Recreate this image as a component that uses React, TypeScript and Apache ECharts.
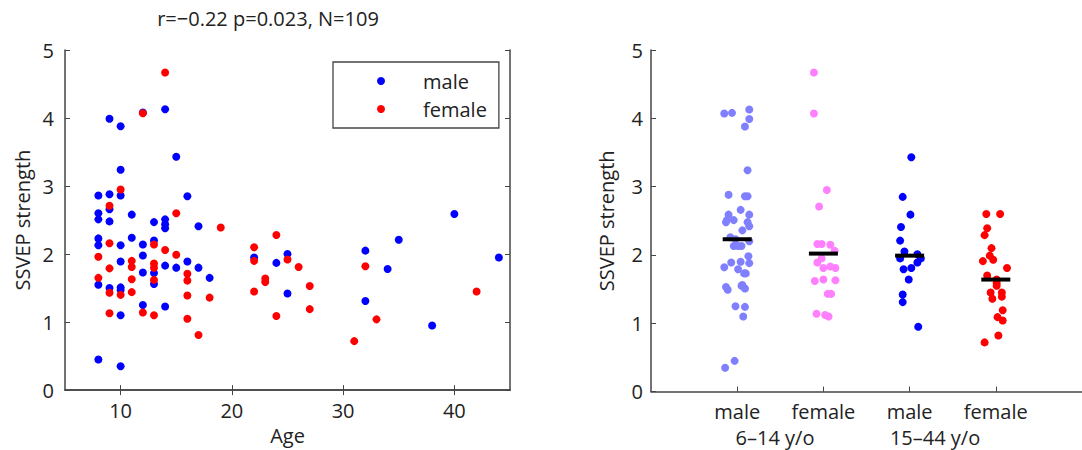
import React, { useEffect, useRef } from "react";
import * as echarts from "echarts";

// ---------- Left panel: SSVEP strength vs age ----------
const MALE_AGE = [14, 9, 10, 15, 10, 8, 9, 10, 16, 9, 8, 11, 8, 9, 13, 14, 14, 14, 17, 8, 8, 10, 11, 12, 13, 12, 10, 12, 13, 14, 15, 16, 17, 18, 8, 9, 10, 10, 13, 12, 14, 10, 8, 10, 22, 24, 25, 25, 32, 32, 34, 35, 38, 40, 44, 12];
const MALE_SSVEP = [4.13, 3.99, 3.88, 3.43, 3.24, 2.86, 2.88, 2.86, 2.85, 2.66, 2.6, 2.58, 2.51, 2.48, 2.47, 2.51, 2.44, 2.38, 2.41, 2.23, 2.13, 2.13, 2.24, 2.14, 2.2, 1.98, 1.89, 1.73, 1.72, 1.83, 1.8, 1.89, 1.8, 1.65, 1.55, 1.5, 1.51, 1.47, 1.56, 1.25, 1.23, 1.1, 0.45, 0.35, 1.95, 1.87, 2.0, 1.42, 2.05, 1.31, 1.78, 2.21, 0.95, 2.59, 1.95, 4.08];
const FEMALE_AGE = [14, 12, 10, 9, 15, 19, 9, 13, 14, 15, 8, 11, 11, 9, 13, 13, 16, 16, 8, 9, 10, 11, 11, 13, 16, 18, 9, 12, 13, 16, 17, 22, 22, 24, 25, 26, 23, 23, 22, 27, 27, 24, 32, 33, 31, 42];
const FEMALE_SSVEP = [4.67, 4.07, 2.95, 2.71, 2.6, 2.39, 2.16, 2.14, 2.06, 1.99, 1.96, 1.9, 1.81, 1.79, 1.86, 1.8, 1.71, 1.61, 1.65, 1.43, 1.4, 1.63, 1.44, 1.62, 1.39, 1.36, 1.13, 1.14, 1.1, 1.05, 0.81, 2.1, 1.9, 2.28, 1.92, 1.81, 1.64, 1.59, 1.45, 1.53, 1.19, 1.09, 1.82, 1.04, 0.72, 1.45];
const AGE_TICKS = [10, 20, 30, 40];
const Y_TICKS = [0, 1, 2, 3, 4, 5];
const TITLE = "r=\u22120.22 p=0.023, N=109";

// ---------- Right panel: groups ----------
const GROUP_LABELS = ["male", "female", "male", "female"];
const AGE_GROUP_LABELS = ["6\u201314 y/o", "15\u201344 y/o"];
const YOUNG_MALE = [4.07, 4.08, 4.13, 3.99, 3.88, 3.24, 2.88, 2.86, 2.86, 2.66, 2.59, 2.59, 2.51, 2.48, 2.51, 2.48, 2.42, 2.36, 2.26, 2.23, 2.13, 2.13, 2.13, 2.2, 1.98, 1.89, 1.9, 1.88, 1.82, 1.79, 1.73, 1.73, 1.53, 1.49, 1.56, 1.51, 1.55, 1.25, 1.24, 1.1, 0.45, 0.35];
const YOUNG_MALE_JITTER = [-0.15, -0.06, 0.14, 0.14, 0.09, 0.12, -0.1, 0.09, 0.12, 0.04, -0.1, 0.14, -0.12, -0.13, -0.04, 0.12, 0.14, 0.06, -0.08, -0.02, -0.04, 0.01, 0.05, 0.14, 0.13, -0.07, 0.04, 0.14, -0.15, 0.01, 0.08, 0.1, -0.13, -0.11, 0.06, 0.09, 0.05, -0.02, 0.09, 0.07, -0.03, -0.14];
const YOUNG_FEMALE = [4.67, 4.07, 2.95, 2.71, 2.16, 2.16, 2.15, 2.06, 1.95, 1.89, 1.81, 1.83, 1.81, 1.62, 1.64, 1.63, 1.43, 1.43, 1.14, 1.12, 1.1];
const YOUNG_FEMALE_JITTER = [-0.11, -0.11, 0.04, -0.05, -0.07, -0.02, 0.08, 0.13, -0.02, -0.07, 0.0, 0.08, 0.14, -0.1, 0.0, 0.14, 0.05, 0.09, -0.08, 0.02, 0.06];
const OLD_MALE = [3.43, 2.85, 2.59, 2.41, 2.21, 2.05, 2.01, 1.95, 1.89, 1.95, 1.79, 1.81, 1.64, 1.42, 1.31, 0.95];
const OLD_MALE_JITTER = [0.02, -0.08, 0.01, -0.1, -0.11, -0.06, 0.09, 0.13, 0.09, -0.11, -0.07, 0.02, -0.01, -0.08, -0.08, 0.1];
const OLD_FEMALE = [2.6, 2.6, 2.39, 2.29, 2.1, 1.99, 1.93, 1.91, 1.81, 1.7, 1.64, 1.59, 1.55, 1.45, 1.36, 1.45, 1.39, 1.19, 1.09, 1.04, 0.82, 0.72];
const OLD_FEMALE_JITTER = [-0.11, 0.05, -0.1, -0.13, -0.05, -0.07, -0.03, -0.15, 0.13, -0.1, 0.01, 0.01, 0.01, -0.06, -0.04, 0.07, 0.07, 0.08, 0.02, 0.08, 0.03, -0.13];
const GROUP_MEDIANS = [2.23, 2.02, 1.99, 1.64];

const FONT = "Open Sans";
const FONT_SIZE = 20;
const AXIS_COLOR = "#454545";
const TEXT_COLOR = "#222222";

const pairs = (xs: number[], ys: number[]) => xs.map((x, i) => [x, ys[i]]);
const groupPoints = (g: number, vals: number[], jit: number[]) => vals.map((v, i) => [g + jit[i], v]);

export default function App() {
  const ref = useRef<HTMLDivElement>(null);
  useEffect(() => {
    if (!ref.current) return;
    const chart = echarts.init(ref.current, null, { renderer: "svg" });

    const L = { left: 65, top: 50, width: 445, height: 341.6 };
    const R = { left: 651, top: 50, width: 444.5, height: 341.6 };
    const R_MIN = 0, R_MAX = 5;
    const rx = (v: number) => R.left + ((v - R_MIN) / (R_MAX - R_MIN)) * R.width;

    const axisLine = { show: true, lineStyle: { color: AXIS_COLOR, width: 1.5 } };
    const tickIn = (vals: number[]) => ({ show: true, inside: true, length: 5, customValues: vals, lineStyle: { color: AXIS_COLOR, width: 1 } });
    const labelStyle = { color: TEXT_COLOR, fontFamily: FONT, fontSize: FONT_SIZE };
    const dot = (color: string) => ({ color, opacity: 1 });
    const groupText = (text: string, x: number) => ({
      type: "text", x, y: 437,
      style: {
        text, fill: TEXT_COLOR, fontFamily: FONT, fontSize: FONT_SIZE, lineHeight: 20,
        textAlign: "center", textVerticalAlign: "middle", verticalAlign: "middle",
      },
    });

    const option: any = {
      animation: false,
      backgroundColor: "#ffffff",
      textStyle: { fontFamily: FONT },
      grid: [
        { left: L.left, top: L.top, width: L.width, height: L.height, containLabel: false },
        { left: R.left, top: R.top, width: R.width, height: R.height, containLabel: false },
      ],
      legend: {
        data: ["male", "female"],
        left: 333,
        top: 62,
        orient: "vertical",
        icon: "circle",
        itemWidth: 8,
        itemHeight: 8,
        itemGap: 6,
        padding: [8, 12, 8, 44],
        borderColor: AXIS_COLOR,
        borderWidth: 1.3,
        borderRadius: 0,
        backgroundColor: "#ffffff",
        textStyle: { color: TEXT_COLOR, fontFamily: FONT, fontSize: FONT_SIZE, lineHeight: 22, padding: [0, 0, 0, 33] },
      },
      xAxis: [
        {
          type: "value", gridIndex: 0, min: 5, max: 45, position: "bottom",
          name: "Age", nameLocation: "middle", nameGap: 34,
          nameTextStyle: { ...labelStyle },
          axisLine, axisTick: tickIn(AGE_TICKS),
          axisLabel: { ...labelStyle, margin: 10, customValues: AGE_TICKS },
          splitLine: { show: false },
        },
        {
          type: "value", gridIndex: 0, min: 5, max: 45, position: "top",
          axisLine, axisTick: tickIn(AGE_TICKS), axisLabel: { show: false }, splitLine: { show: false },
        },
        {
          type: "value", gridIndex: 1, min: R_MIN, max: R_MAX, position: "bottom",
          axisLine, axisTick: tickIn([1, 2, 3, 4]),
          axisLabel: {
            ...labelStyle, margin: 9, lineHeight: 22, customValues: [1, 2, 3, 4],
            formatter: (v: number) => GROUP_LABELS[Math.round(v) - 1] ?? "",
          },
          splitLine: { show: false },
        },
      ],
      yAxis: [
        {
          type: "value", gridIndex: 0, min: 0, max: 5, position: "left",
          name: "SSVEP strength", nameLocation: "middle", nameGap: 33, nameRotate: 90,
          nameTextStyle: { ...labelStyle },
          axisLine, axisTick: tickIn(Y_TICKS),
          axisLabel: { ...labelStyle, margin: 11, customValues: Y_TICKS },
          splitLine: { show: false },
        },
        {
          type: "value", gridIndex: 0, min: 0, max: 5, position: "right",
          axisLine, axisTick: tickIn(Y_TICKS), axisLabel: { show: false }, splitLine: { show: false },
        },
        {
          type: "value", gridIndex: 1, min: 0, max: 5, position: "left",
          name: "SSVEP strength", nameLocation: "middle", nameGap: 35, nameRotate: 90,
          nameTextStyle: { ...labelStyle },
          axisLine, axisTick: tickIn(Y_TICKS),
          axisLabel: { ...labelStyle, margin: 8, customValues: Y_TICKS },
          splitLine: { show: false },
        },
      ],
      graphic: [
        {
          type: "text", x: 268, y: 8,
          style: { text: TITLE, fill: TEXT_COLOR, fontFamily: FONT, fontSize: FONT_SIZE, textAlign: "center" },
        },
        groupText(AGE_GROUP_LABELS[0], rx(1.395)),
        groupText(AGE_GROUP_LABELS[1], rx(3.195)),
      ],
      series: [
        {
          name: "male", type: "scatter", xAxisIndex: 0, yAxisIndex: 0,
          data: pairs(MALE_AGE, MALE_SSVEP), symbol: "circle", symbolSize: 8,
          itemStyle: dot("#0000ff"), z: 2,
        },
        {
          name: "female", type: "scatter", xAxisIndex: 0, yAxisIndex: 0,
          data: pairs(FEMALE_AGE, FEMALE_SSVEP), symbol: "circle", symbolSize: 8,
          itemStyle: dot("#ff0000"), z: 3,
        },
        {
          name: "young male", type: "scatter", xAxisIndex: 2, yAxisIndex: 2,
          data: groupPoints(1, YOUNG_MALE, YOUNG_MALE_JITTER), symbol: "circle", symbolSize: 8,
          itemStyle: dot("#8080ff"), z: 2,
        },
        {
          name: "young female", type: "scatter", xAxisIndex: 2, yAxisIndex: 2,
          data: groupPoints(2, YOUNG_FEMALE, YOUNG_FEMALE_JITTER), symbol: "circle", symbolSize: 8,
          itemStyle: dot("#ff80ff"), z: 2,
        },
        {
          name: "old male", type: "scatter", xAxisIndex: 2, yAxisIndex: 2,
          data: groupPoints(3, OLD_MALE, OLD_MALE_JITTER), symbol: "circle", symbolSize: 8,
          itemStyle: dot("#0000ff"), z: 2,
        },
        {
          name: "old female", type: "scatter", xAxisIndex: 2, yAxisIndex: 2,
          data: groupPoints(4, OLD_FEMALE, OLD_FEMALE_JITTER), symbol: "circle", symbolSize: 8,
          itemStyle: dot("#ff0000"), z: 2,
        },
        {
          name: "median", type: "scatter", xAxisIndex: 2, yAxisIndex: 2,
          data: GROUP_MEDIANS.map((m, i) => [i + 1, m]), symbol: "rect", symbolSize: [29, 4],
          itemStyle: dot("#000000"), z: 5,
        },
      ],
    };

    chart.setOption(option);
    return () => chart.dispose();
  }, []);

  return (
    <div
      ref={ref}
      style={{ position: "fixed", left: 0, top: 0, width: 1082, height: 450, background: "#fff" }}
    />
  );
}
